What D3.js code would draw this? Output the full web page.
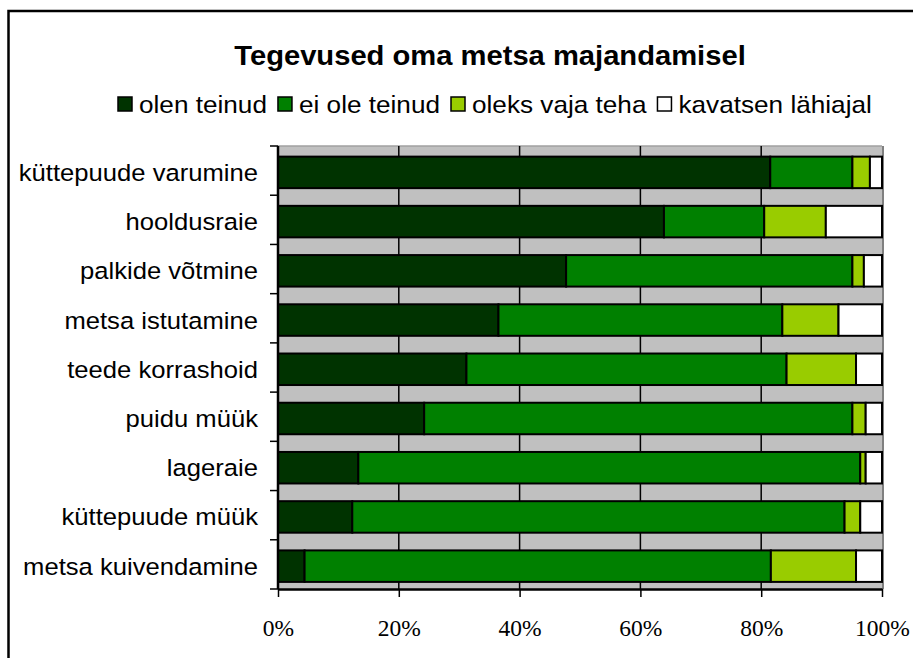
<!DOCTYPE html>
<html>
<head>
    <meta charset="utf-8">
    <title></title>
    <script src="https://d3js.org/d3.v7.min.js"></script>
<style>
body { margin: 0; background: #fff; }
svg { display: block; }
</style>
</head>
<body>
<div id="chart-container"></div>
<script>
const categories = ['küttepuude varumine', 'hooldusraie', 'palkide võtmine', 'metsa istutamine',
    'teede korrashoid', 'puidu müük', 'lageraie', 'küttepuude müük', 'metsa kuivendamine'];
const seriesNames = ['olen teinud', 'ei ole teinud', 'oleks vaja teha', 'kavatsen lähiajal'];
const olenTeinud   = [81.5, 63.9, 47.7, 36.5, 31.2, 24.2, 13.3, 12.3, 4.4];
const eiOleTeinud  = [13.6, 16.6, 47.4, 47.0, 53.0, 70.9, 83.1, 81.5, 77.2];
const oleksVaja    = [2.9, 10.2, 1.9, 9.3, 11.5, 2.2, 0.9, 2.6, 14.1];
const kavatsen     = [2.0, 9.3, 3.0, 7.2, 4.3, 2.7, 2.7, 3.6, 4.3];
const tickValues = [0, 0.2, 0.4, 0.6, 0.8, 1];
const colors = ['#003300', '#008000', '#99cc00', '#ffffff'];

const width = 913, height = 658;
const plot = { left: 278, right: 882, top: 146, bottom: 589 };
const sans = '"Liberation Sans", Arial, sans-serif';
const serif = '"Liberation Serif", "Times New Roman", serif';
const stretch = 1.09; // the original text is a bit wider than normal Arial

const data = categories.map((c, i) => {
    const row = { cat: c };
    row[seriesNames[0]] = olenTeinud[i];
    row[seriesNames[1]] = eiOleTeinud[i];
    row[seriesNames[2]] = oleksVaja[i];
    row[seriesNames[3]] = kavatsen[i];
    return row;
});

const stacked = d3.stack().keys(seriesNames).offset(d3.stackOffsetExpand)(data);

const svg = d3.select('#chart-container').append('svg')
    .attr('width', width)
    .attr('height', height);

function wideText(parent, tx, ty, txt, size, anchor, sx) {
    const g = parent.append('g').attr('transform', `translate(${tx},${ty}) scale(${sx},1)`);
    return g.append('text')
        .attr('text-anchor', anchor)
        .attr('dy', '0.36em')
        .attr('font-family', sans)
        .attr('font-size', size)
        .text(txt);
}

// outer chart border (runs off the right/bottom edge)
svg.append('rect')
    .attr('x', 8.5).attr('y', 11)
    .attr('width', width + 20).attr('height', height + 20)
    .attr('fill', '#fff')
    .attr('stroke', '#000')
    .attr('stroke-width', 2.5);

const x = d3.scaleLinear().domain([0, 1]).range([plot.left, plot.right]);
const y = d3.scaleBand().domain(categories).range([plot.top, plot.bottom])
    .paddingInner(0.36).paddingOuter(0.18).align(0.6);
const yEdge = d3.scaleLinear().domain([0, categories.length]).range([plot.top, plot.bottom]);

// plot background
svg.append('rect')
    .attr('x', plot.left).attr('y', plot.top)
    .attr('width', plot.right - plot.left).attr('height', plot.bottom - plot.top)
    .attr('fill', '#c0c0c0');

// top/right plot edges
svg.append('line')
    .attr('x1', plot.left).attr('x2', plot.right)
    .attr('y1', plot.top).attr('y2', plot.top)
    .attr('stroke', '#a0a0a0').attr('stroke-width', 1.5);
svg.append('line')
    .attr('x1', plot.right + 1).attr('x2', plot.right + 1)
    .attr('y1', plot.top).attr('y2', plot.bottom)
    .attr('stroke', '#808080').attr('stroke-width', 2);

// vertical gridlines
svg.append('g')
    .selectAll('line')
    .data(tickValues.slice(1, -1))
    .join('line')
    .attr('x1', d => x(d)).attr('x2', d => x(d))
    .attr('y1', plot.top).attr('y2', plot.bottom)
    .attr('stroke', '#000').attr('stroke-width', 1.5);

// bars
svg.append('g')
    .selectAll('g')
    .data(stacked)
    .join('g')
    .attr('fill', (d, i) => colors[i])
    .selectAll('rect')
    .data(d => d)
    .join('rect')
    .attr('x', d => x(d[0]))
    .attr('y', d => y(d.data.cat))
    .attr('width', d => x(d[1]) - x(d[0]))
    .attr('height', y.bandwidth())
    .attr('stroke', '#000')
    .attr('stroke-width', 2);

// x axis
const xAxis = svg.append('g')
    .attr('transform', `translate(0,${plot.bottom})`)
    .call(d3.axisBottom(x).tickValues(tickValues).tickFormat(d3.format('.0%')).tickSize(8).tickSizeOuter(0));
xAxis.attr('font-family', serif).attr('font-size', 23);
xAxis.select('.domain').attr('stroke', '#000').attr('stroke-width', 2.5);
xAxis.selectAll('.tick line').attr('stroke', '#000').attr('stroke-width', 1.5);
xAxis.selectAll('.tick text')
    .attr('y', 47)
    .attr('dy', 0)
    .attr('font-family', serif)
    .attr('font-size', 23.5)
    .attr('fill', '#000');

// y axis: line + ticks at category boundaries
svg.append('line')
    .attr('x1', plot.left).attr('x2', plot.left)
    .attr('y1', plot.top).attr('y2', plot.bottom)
    .attr('stroke', '#000').attr('stroke-width', 2.5);
svg.append('g')
    .selectAll('line')
    .data(d3.range(categories.length + 1))
    .join('line')
    .attr('x1', plot.left - 8).attr('x2', plot.left)
    .attr('y1', d => yEdge(d)).attr('y2', d => yEdge(d))
    .attr('stroke', '#000').attr('stroke-width', 1.5);

// category labels
const labels = svg.append('g');
categories.forEach(c => {
    wideText(labels, plot.left - 20, y(c) + y.bandwidth() / 2, c, 23.5, 'end', stretch);
});

// title
wideText(svg, 490, 55, 'Tegevused oma metsa majandamisel', 27, 'middle', 1.08)
    .attr('font-weight', 'bold');

// legend
const legend = svg.append('g').attr('transform', 'translate(118,104)');
let lx = 0;
seriesNames.forEach((name, i) => {
    legend.append('rect')
        .attr('x', lx).attr('y', -7)
        .attr('width', 14).attr('height', 14)
        .attr('fill', colors[i])
        .attr('stroke', '#000').attr('stroke-width', 1.5);
    const t = wideText(legend, lx + 21, 0, name, 24, 'start', stretch);
    lx += 21 + t.node().getComputedTextLength() * stretch + 11;
});
</script>
</body>
</html>
